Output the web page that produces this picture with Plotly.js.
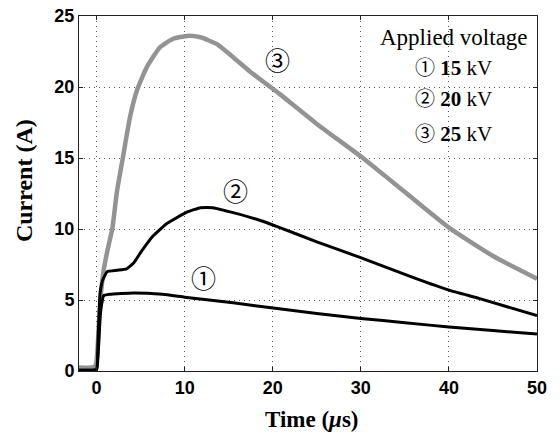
<!DOCTYPE html>
<html>
<head>
<meta charset="utf-8">
<script src="https://cdn.plot.ly/plotly-3.0.1.min.js"></script>
<style>
  html, body { margin: 0; padding: 0; background: #fff; }
  #chart { width: 560px; height: 434px; }
</style>
</head>
<body>
<div id="chart"></div>
<script>
// Discharge current waveforms for three applied voltages
// time in microseconds, current in amperes

// 15 kV
const t1 = [-2, -0.5, 0.0, 0.2, 0.4, 0.6, 0.8, 1.5, 4.2, 7.5, 10, 15.5, 20.5, 25, 30, 35, 40, 45, 50];
const i1 = [0.05, 0.05, 0.1, 1.5, 3.8, 4.8, 5.3, 5.4, 5.5, 5.4, 5.2, 4.8, 4.4, 4.05, 3.7, 3.4, 3.1, 2.85, 2.6];

// 20 kV
const t2 = [-2, -0.5, 0.0, 0.15, 0.4, 0.7, 1.2, 2.3, 3.4, 4.2, 4.95, 6.4, 7.9, 8.7, 10.3, 11.8, 13.2, 15.5, 18.6, 20.8, 25, 29.9, 35.9, 40, 43.5, 50];
const i2 = [0.05, 0.05, 0.1, 2.0, 5.5, 6.4, 7.0, 7.1, 7.2, 7.6, 8.3, 9.5, 10.35, 10.65, 11.2, 11.5, 11.5, 11.15, 10.6, 10.1, 9.1, 8.0, 6.6, 5.7, 5.1, 3.9];

// 25 kV
const t3 = [-2, -0.5, -0.1, 0.1, 0.3, 0.5, 0.8, 1.2, 1.8, 2.3, 3.0, 3.8, 4.6, 5.7, 7.2, 8.7, 10.3, 11.8, 13.7, 15.5, 17.4, 19.3, 20.8, 25, 30, 35, 40, 45, 50];
const i3 = [0.25, 0.25, 0.4, 1.5, 3.8, 5.5, 7.1, 8.4, 10.1, 12.6, 15.1, 17.9, 19.8, 21.4, 22.8, 23.4, 23.6, 23.5, 23.0, 22.1, 21.1, 20.2, 19.5, 17.4, 15.1, 12.6, 10.1, 8.1, 6.5];

// curve labels and legend text
const curveMarks = ['①', '②', '③'];
const markX = [12.1, 15.8, 20.5];
const markY = [6.6, 12.75, 22.0];
const legendTitle = 'Applied voltage';
const voltages = ['15', '20', '25'];
const legendY = [21.45, 19.25, 16.8];

const serif = '"Liberation Serif", "Times New Roman", "DejaVu Serif", serif';
const sans = '"Liberation Sans", Arial, sans-serif';
const circleFont = '"Noto Sans CJK JP", "DejaVu Sans", sans-serif';

function circled(ch, size) {
  return '<span style="font-family:' + circleFont.replace(/"/g, "'") + ';font-size:' + size + 'px">' + ch + '</span>';
}

const traces = [
  { x: t3, y: i3, mode: 'lines', line: { color: '#939393', width: 4.5, shape: 'spline', smoothing: 0.5 }, hoverinfo: 'skip' },
  { x: t2, y: i2, mode: 'lines', line: { color: '#000', width: 3, shape: 'spline', smoothing: 0.4 }, hoverinfo: 'skip' },
  { x: t1, y: i1, mode: 'lines', line: { color: '#000', width: 3, shape: 'spline', smoothing: 0.4 }, hoverinfo: 'skip' }
];

const annotations = [];
for (let k = 0; k < 3; k++) {
  annotations.push({
    x: markX[k], y: markY[k], xref: 'x', yref: 'y', text: circled(curveMarks[k], 25),
    showarrow: false, font: { family: serif, size: 22, color: '#000' }
  });
  annotations.push({
    x: 40.5, y: legendY[k], xref: 'x', yref: 'y',
    text: circled(curveMarks[k], 20) + ' <b>' + voltages[k] + '</b> kV',
    showarrow: false, font: { family: serif, size: 21, color: '#000' }
  });
}
annotations.push({
  x: 40.6, y: 23.5, xref: 'x', yref: 'y', text: legendTitle,
  showarrow: false, font: { family: serif, size: 23, color: '#000' }
});
// axis titles
annotations.push({
  x: -0.12, y: 0.535, xref: 'paper', yref: 'paper', text: '<b>Current (A)</b>',
  textangle: -90, showarrow: false, xanchor: 'center', yanchor: 'middle',
  font: { family: serif, size: 24, color: '#000' }
});
annotations.push({
  x: 0.509, y: -0.138, xref: 'paper', yref: 'paper', text: '<b>Time (<i>μ</i>s)</b>',
  showarrow: false, xanchor: 'center', yanchor: 'middle',
  font: { family: serif, size: 23, color: '#000' }
});

const axisCommon = {
  showgrid: true, gridcolor: '#555', griddash: '1px,4px', gridwidth: 1,
  zeroline: false, showline: true, linecolor: '#222', linewidth: 1, mirror: 'ticks',
  ticks: 'inside', ticklen: 4, tickcolor: '#222',
  tickfont: { family: sans, size: 18, color: '#000', weight: 'bold' }
};

const layout = {
  width: 560, height: 434,
  margin: { l: 79, r: 23, t: 16, b: 63 },
  paper_bgcolor: '#fff', plot_bgcolor: '#fff',
  showlegend: false,
  xaxis: Object.assign({}, axisCommon, { range: [-2, 50], tickvals: [0, 10, 20, 30, 40, 50] }),
  yaxis: Object.assign({}, axisCommon, { range: [0, 25], tickvals: [0, 5, 10, 15, 20, 25] }),
  annotations: annotations
};

Plotly.newPlot('chart', traces, layout, { staticPlot: true, displayModeBar: false });
</script>
</body>
</html>
